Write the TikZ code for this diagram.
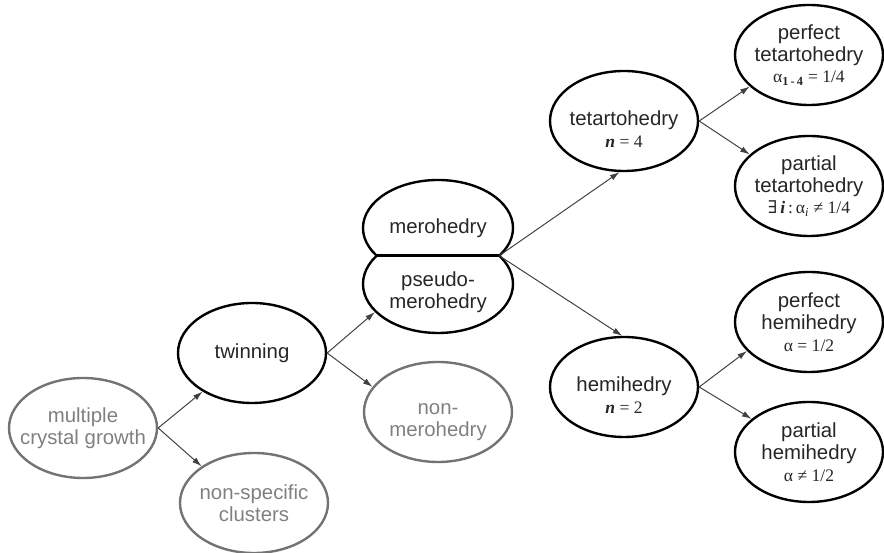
\documentclass[tikz,border=0pt]{standalone}
\usepackage{fontspec}
\setmainfont{Liberation Sans}
\newfontfamily\formfont{Liberation Serif}
\newfontfamily\symbfont{DejaVu Serif}
\usepackage{tikz}
\usetikzlibrary{arrows.meta,shapes.geometric}

\newcommand{\frm}[1]{{\formfont\fontsize{12.5}{15.5}\selectfont #1}}
\newcommand{\drop}{\rule{0pt}{22pt}}

\begin{document}
\begin{tikzpicture}[
  oval/.style={ellipse, minimum width=3.7cm, minimum height=2.5cm, inner xsep=-0.4cm, inner ysep=0pt, line width=1.7pt, align=center, font=\fontsize{14.5}{15.5}\selectfont},
  dark/.style={oval, draw=black, text=black!85},
  pale/.style={oval, draw=black!55, text=black!50},
  link/.style={-{Latex[length=2.4mm,width=1.5mm]}, line width=0.7pt, draw=black!75}
]
\useasboundingbox (0,0) rectangle (22.1,13.825);

\node[pale] (mcg) at (2.075,3.125) {multiple\\crystal growth};
\node[pale] (nsc) at (6.35,1.25) {non-specific\\clusters};
\node[dark] (twin) at (6.3,5.0) {twinning};
\node[pale] (nonmero) at (10.95,3.525) {\drop non-\\merohedry};

\begin{scope}
  \clip (9,7.4325) rectangle (13,10);
  \node[dark, minimum width=3.75cm, minimum height=2.4cm] (mero) at (10.95,8.125) {merohedry};
\end{scope}
\begin{scope}
  \clip (9,7.4325) rectangle (13,5);
  \node[dark, minimum width=3.75cm, minimum height=2.45cm] (pseudo) at (10.95,6.725) {\drop pseudo-\\merohedry};
\end{scope}
\coordinate (cutw) at (9.42,7.4325);
\coordinate (cute) at (12.48,7.4325);
\draw[line width=1.7pt] (cutw) -- (cute);

\node[dark] (tet) at (15.6,10.8) {\drop tetartohedry\\\frm{\textbf{\textit{n}} = 4}};
\node[dark] (hemi) at (15.6,4.15) {\drop hemihedry\\\frm{\textbf{\textit{n}} = 2}};

\node[dark] (ptet) at (20.225,12.45) {perfect\\tetartohedry\\\frm{α\textsubscript{\textbf{1\,-\,4}} = 1/4}};
\node[dark] (qtet) at (20.225,9.175) {partial\\tetartohedry\\\frm{{\symbfont ∃}\,\textbf{\textit{i}}\,:\,α\textsubscript{\textit{i}} ≠ 1/4}};
\node[dark] (phemi) at (20.225,5.775) {perfect\\hemihedry\\\frm{α = 1/2}};
\node[dark] (qhemi) at (20.225,2.525) {partial\\hemihedry\\\frm{α ≠ 1/2}};

\draw[link] (mcg.east) -- (twin.218);
\draw[link] (mcg.east) -- (nsc.145);
\draw[link] (twin.east) -- (pseudo.204);
\draw[link] (twin.east) -- (nonmero.159);
\draw[link] (cute) -- (tet.265);
\draw[link] (cute) -- (hemi.92);
\draw[link] (tet.east) -- (ptet.208);
\draw[link] (tet.east) -- (qtet.152);
\draw[link] (hemi.east) -- (phemi.205);
\draw[link] (hemi.east) -- (qhemi.150);
\end{tikzpicture}
\end{document}
